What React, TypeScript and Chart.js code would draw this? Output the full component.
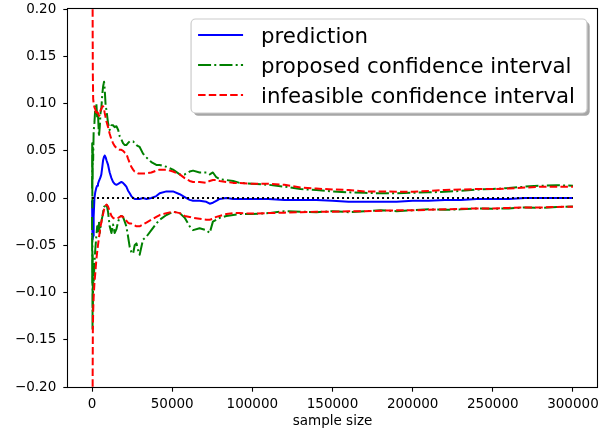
import React, { useEffect, useRef } from "react";
import { Chart, registerables } from "chart.js";

Chart.register(...registerables);

const sampleSize = [
  0, 100, 200, 300, 400, 500, 700, 1000, 1500, 2000,
  2700, 3200, 3700, 4300, 4800, 5300, 5800, 6400, 6900, 7500,
  7900, 8500, 9000, 10000, 11000, 12100, 13100, 14100, 15200, 16300,
  17300, 18300, 19300, 20400, 21400, 22400, 23500, 24500, 25600, 26600,
  27700, 28700, 29700, 31800, 33900, 37000, 40100, 42200, 46400, 50500,
  54700, 57800, 60900, 63000, 67100, 71300, 73400, 75400, 77500, 79600,
  83800, 88000, 92000, 100000, 110000, 120000, 130000, 140000, 150000, 160000,
  170000, 180000, 190000, 200000, 210000, 220000, 230000, 240000, 250000, 260000,
  270000, 280000, 290000, 300000,
];

const prediction = [
  -0.003, -0.012, -0.02, -0.03, -0.038, -0.044, -0.04, -0.02, 0.0, 0.006,
  0.011, 0.013, 0.015, 0.018, 0.02, 0.022, 0.025, 0.033, 0.04, 0.044,
  0.045, 0.043, 0.04, 0.035, 0.027, 0.021, 0.017, 0.015, 0.014, 0.015,
  0.016, 0.017, 0.016, 0.014, 0.012, 0.008, 0.005, 0.002, 0.0, -0.001,
  -0.001, -0.001, -0.001, 0.0, -0.001, 0.0, 0.002, 0.005, 0.007, 0.007,
  0.004, 0.001, -0.002, -0.003, -0.003, -0.004, -0.006, -0.005, -0.003, -0.001,
  0.0, -0.001, -0.001, -0.001, -0.001, -0.002, -0.002, -0.002, -0.003, -0.004,
  -0.004, -0.004, -0.004, -0.003, -0.003, -0.002, -0.002, -0.001, -0.001, -0.001,
  0.0, 0.0, 0.0, 0.0,
];

const proposedUpper = [
  0.01, 0.058, -0.01, 0.05, 0.02, 0.055, 0.04, 0.07, 0.08, 0.095,
  0.1, 0.085, 0.09, 0.065, 0.075, 0.09, 0.095, 0.11, 0.118, 0.123,
  0.115, 0.097, 0.093, 0.079, 0.072, 0.077, 0.077, 0.075, 0.076, 0.072,
  0.065, 0.062, 0.058, 0.056, 0.056, 0.058, 0.06, 0.06, 0.06, 0.058,
  0.056, 0.055, 0.054, 0.047, 0.043, 0.038, 0.035, 0.035, 0.033, 0.03,
  0.025, 0.025, 0.028, 0.029, 0.027, 0.027, 0.025, 0.027, 0.022, 0.02,
  0.019, 0.018, 0.016, 0.015, 0.014, 0.012, 0.0095, 0.0085, 0.007, 0.006,
  0.0055, 0.005, 0.005, 0.0055, 0.006, 0.0065, 0.0075, 0.009, 0.0095, 0.0105,
  0.012, 0.013, 0.0135, 0.013,
];

const proposedLower = [
  -0.02, -0.09, -0.04, -0.14, -0.06, -0.12, -0.085, -0.09, -0.07, -0.055,
  -0.04, -0.03, -0.035, -0.025, -0.037, -0.03, -0.025, -0.02, -0.015, -0.009,
  -0.009, -0.006, -0.006, -0.015, -0.03, -0.037, -0.028, -0.037, -0.033, -0.025,
  -0.02, -0.019, -0.02, -0.025, -0.03, -0.04, -0.052, -0.057, -0.059, -0.05,
  -0.048, -0.055, -0.06, -0.044, -0.041, -0.034, -0.027, -0.023, -0.018, -0.0145,
  -0.016, -0.021, -0.03, -0.034, -0.032, -0.034, -0.037, -0.025, -0.023, -0.021,
  -0.019, -0.018, -0.017, -0.017, -0.016, -0.014, -0.0145, -0.015, -0.014, -0.015,
  -0.014, -0.013, -0.014, -0.013, -0.012, -0.0125, -0.012, -0.011, -0.0115, -0.011,
  -0.01, -0.0105, -0.0095, -0.009,
];

const infeasibleUpper = [
  2.0, 1.0, 0.5, 0.25, 0.17, 0.13, 0.105, 0.1, 0.096, 0.094,
  0.088, 0.091, 0.09, 0.087, 0.088, 0.093, 0.094, 0.097, 0.097, 0.094,
  0.09, 0.085, 0.081, 0.075, 0.068, 0.062, 0.058, 0.055, 0.053, 0.052,
  0.051, 0.051, 0.05, 0.048, 0.047, 0.042, 0.037, 0.033, 0.03, 0.028,
  0.027, 0.026, 0.026, 0.026, 0.026, 0.027, 0.029, 0.03, 0.03, 0.028,
  0.025, 0.021, 0.018, 0.017, 0.017, 0.016, 0.018, 0.019, 0.019, 0.018,
  0.017, 0.016, 0.016, 0.015, 0.015, 0.014, 0.011, 0.01, 0.009, 0.0085,
  0.007, 0.007, 0.0067, 0.0067, 0.0075, 0.0085, 0.009, 0.0095, 0.0095, 0.01,
  0.011, 0.012, 0.012, 0.012,
];

const infeasibleLower = [
  -2.0, -1.0, -0.5, -0.25, -0.18, -0.14, -0.12, -0.105, -0.09, -0.08,
  -0.065, -0.057, -0.05, -0.042, -0.036, -0.03, -0.026, -0.02, -0.017, -0.012,
  -0.01, -0.008, -0.007, -0.009, -0.014, -0.019, -0.021, -0.022, -0.022, -0.021,
  -0.02, -0.019, -0.02, -0.022, -0.024, -0.026, -0.027, -0.027, -0.028, -0.029,
  -0.03, -0.03, -0.03, -0.028, -0.026, -0.023, -0.02, -0.018, -0.016, -0.0145,
  -0.016, -0.019, -0.02, -0.021, -0.022, -0.023, -0.023, -0.022, -0.02, -0.019,
  -0.017, -0.016, -0.016, -0.0165, -0.016, -0.0155, -0.015, -0.0145, -0.0145, -0.014,
  -0.014, -0.0135, -0.013, -0.013, -0.0125, -0.012, -0.0115, -0.011, -0.011, -0.0105,
  -0.01, -0.01, -0.0095, -0.0092,
];

const zeroLineX = [0, 300000];
const zeroLineY = [0, 0];

const xTicks = [0, 50000, 100000, 150000, 200000, 250000, 300000];
const xTickLabels = ["0", "50000", "100000", "150000", "200000", "250000", "300000"];
const yTicks = [-0.2, -0.15, -0.1, -0.05, 0, 0.05, 0.1, 0.15, 0.2];
const yTickLabels = ["\u22120.20", "\u22120.15", "\u22120.10", "\u22120.05", "0.00", "0.05", "0.10", "0.15", "0.20"];

const legendLabels = ["prediction", "proposed confidence interval", "infeasible confidence interval"];
const xTitle = "sample size";

const FONT = "'DejaVu Sans', 'Liberation Sans', sans-serif";
const LW = 2;
const DASHED = [7.5, 3.2];
const DASHDOT = [13, 3.2, 2, 3.2];
const DOTTED = [2, 3];
const BLUE = "#0000ff";
const GREEN = "#008000";
const RED = "#ff0000";

const legendStyles = [
  { color: BLUE, dash: [] as number[] },
  { color: GREEN, dash: DASHDOT },
  { color: RED, dash: DASHED },
];

function roundRect(ctx: CanvasRenderingContext2D, x: number, y: number, w: number, h: number, r: number) {
  ctx.beginPath();
  ctx.moveTo(x + r, y);
  ctx.lineTo(x + w - r, y);
  ctx.arcTo(x + w, y, x + w, y + r, r);
  ctx.lineTo(x + w, y + h - r);
  ctx.arcTo(x + w, y + h, x + w - r, y + h, r);
  ctx.lineTo(x + r, y + h);
  ctx.arcTo(x, y + h, x, y + h - r, r);
  ctx.lineTo(x, y + r);
  ctx.arcTo(x, y, x + r, y, r);
  ctx.closePath();
}

const framePlugin = {
  id: "mplFrame",
  afterDraw(chart: any) {
    const { ctx, chartArea } = chart;
    ctx.save();
    ctx.strokeStyle = "#000";
    ctx.lineWidth = 1.1;
    const l = Math.round(chartArea.left) - 0.5;
    const t = Math.round(chartArea.top) - 0.5;
    const r = Math.round(chartArea.right) + 0.5;
    const b = Math.round(chartArea.bottom) + 0.5;
    ctx.strokeRect(l, t, r - l, b - t);
    ctx.restore();
  },
};

const legendPlugin = {
  id: "mplLegend",
  afterDraw(chart: any) {
    const { ctx, chartArea } = chart;
    const fs = 21.3;
    ctx.save();
    ctx.font = `${fs}px ${FONT}`;
    const textW = Math.max(...legendLabels.map((l) => ctx.measureText(l).width));
    const padL = 7;
    const handle = 45;
    const gap = 18;
    const padR = 12;
    const w = padL + handle + gap + textW + padR;
    const right = chartArea.right - 10;
    const top = chartArea.top + 10;
    const left = right - w;
    const h = 94;
    const rad = 4.5;
    ctx.fillStyle = "rgba(77,77,77,0.5)";
    roundRect(ctx, left + 2.7, top + 2.7, w, h, rad);
    ctx.fill();
    ctx.fillStyle = "#ffffff";
    roundRect(ctx, left, top, w, h, rad);
    ctx.fill();
    ctx.strokeStyle = "#cccccc";
    ctx.lineWidth = 1.2;
    ctx.stroke();
    legendLabels.forEach((label, i) => {
      const cy = top + 16 + i * 30;
      const st = legendStyles[i];
      ctx.beginPath();
      ctx.setLineDash(st.dash);
      ctx.strokeStyle = st.color;
      ctx.lineWidth = LW;
      ctx.moveTo(left + padL, cy);
      ctx.lineTo(left + padL + handle, cy);
      ctx.stroke();
      ctx.setLineDash([]);
      ctx.fillStyle = "#000";
      ctx.textBaseline = "alphabetic";
      ctx.textAlign = "left";
      ctx.fillText(label, left + padL + handle + gap, cy + 8.3);
    });
    ctx.restore();
  },
};

export default function App() {
  const ref = useRef<HTMLCanvasElement>(null);
  useEffect(() => {
    document.body.style.margin = "0";
    if (!ref.current) return;
    Chart.defaults.font.family = FONT;
    const pts = (ys: number[]) => sampleSize.map((x, i) => ({ x, y: ys[i] }));
    const zero = zeroLineX.map((x, i) => ({ x, y: zeroLineY[i] }));
    const lineBase = {
      pointRadius: 0,
      borderWidth: LW,
      tension: 0,
      fill: false,
      borderJoinStyle: "round" as const,
    };
    const tickGrid = {
      display: true,
      drawOnChartArea: false,
      drawTicks: true,
      tickLength: 4.7,
      tickColor: "#000",
      tickWidth: 1.1,
    };
    const chart = new Chart(ref.current, {
      type: "line",
      data: {
        datasets: [
          { ...lineBase, label: "zero", data: zero, borderColor: "#000", borderDash: DOTTED, borderWidth: 2 },
          { ...lineBase, label: legendLabels[2], data: pts(infeasibleUpper), borderColor: RED, borderDash: DASHED },
          { ...lineBase, label: legendLabels[2] + " lower", data: pts(infeasibleLower), borderColor: RED, borderDash: DASHED },
          { ...lineBase, label: legendLabels[1], data: pts(proposedUpper), borderColor: GREEN, borderDash: DASHDOT },
          { ...lineBase, label: legendLabels[1] + " lower", data: pts(proposedLower), borderColor: GREEN, borderDash: DASHDOT },
          { ...lineBase, label: legendLabels[0], data: pts(prediction), borderColor: BLUE },
        ],
      },
      options: {
        animation: false,
        responsive: true,
        maintainAspectRatio: false,
        layout: { padding: { top: 9, right: 16, left: 0, bottom: 0 } },
        plugins: { legend: { display: false }, tooltip: { enabled: false } },
        scales: {
          x: {
            type: "linear",
            min: -15000,
            max: 315000,
            afterBuildTicks: (s: any) => {
              s.ticks = xTicks.map((v) => ({ value: v }));
            },
            afterFit: (s: any) => {
              s.height = 49;
              s.paddingLeft = 0;
              s.paddingRight = 0;
            },
            ticks: {
              autoSkip: false,
              maxRotation: 0,
              padding: 4.4,
              color: "#000",
              font: { size: 13.5, family: FONT },
              callback: (v: any) => {
                const i = xTicks.indexOf(Number(v));
                return i >= 0 ? xTickLabels[i] : "";
              },
            },
            grid: tickGrid,
            border: { display: false },
            title: {
              display: true,
              text: xTitle,
              color: "#000",
              font: { size: 13.5, family: FONT },
              padding: { top: 0, bottom: 6 },
            },
          },
          y: {
            type: "linear",
            min: -0.2,
            max: 0.2,
            afterBuildTicks: (s: any) => {
              s.ticks = yTicks.map((v) => ({ value: v }));
            },
            afterFit: (s: any) => {
              s.width = 68;
              s.paddingTop = 0;
              s.paddingBottom = 0;
            },
            ticks: {
              autoSkip: false,
              padding: 7,
              color: "#000",
              font: { size: 13.5, family: FONT },
              callback: (v: any) => {
                const i = yTicks.findIndex((t) => Math.abs(t - Number(v)) < 1e-9);
                return i >= 0 ? yTickLabels[i] : "";
              },
            },
            grid: tickGrid,
            border: { display: false },
          },
        },
      },
      plugins: [framePlugin, legendPlugin],
    });
    return () => chart.destroy();
  }, []);
  return (
    <div style={{ position: "absolute", left: 0, top: 0, width: 613, height: 436 }}>
      <canvas ref={ref} />
    </div>
  );
}
